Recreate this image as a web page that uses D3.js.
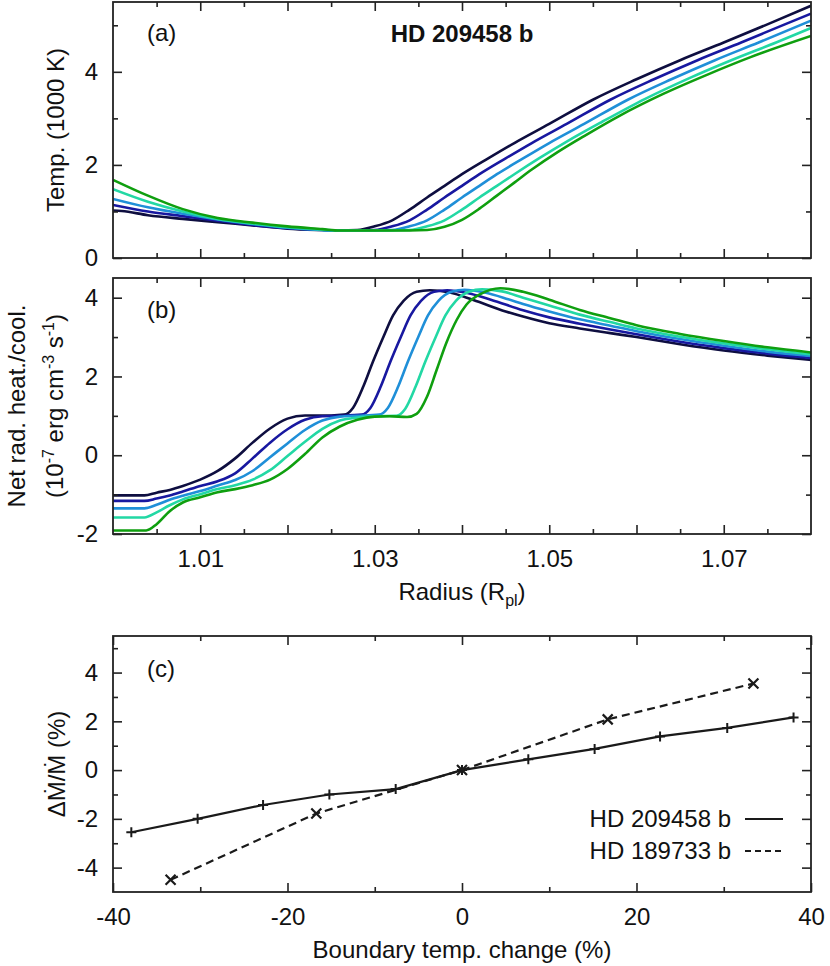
<!DOCTYPE html>
<html><head><meta charset="utf-8">
<script src="https://cdn.jsdelivr.net/npm/d3@7"></script>
<style>
body{margin:0;background:#fff}
text{font-family:"Liberation Sans",Arial,Helvetica,sans-serif;fill:#111}
</style>
</head><body>
<svg id="chart" width="830" height="966"></svg>
<script>
// ---------- DATA ----------
const seriesColors = ["#0e0e40", "#1818a0", "#1f8fd8", "#22d8a4", "#0f9f0f"];

// Panel (a): temperature (1000 K) vs radius (R_pl)
const tempS1 = [[1.000,1.02],[1.001,1.01],[1.004,0.92],[1.008,0.84],[1.012,0.77],[1.016,0.70],[1.020,0.63],[1.024,0.60],[1.026,0.59],[1.028,0.60],[1.030,0.68],[1.032,0.81],[1.034,1.04],[1.036,1.30],[1.038,1.55],[1.040,1.80],[1.043,2.14],[1.046,2.47],[1.050,2.88],[1.055,3.40],[1.060,3.84],[1.065,4.25],[1.070,4.63],[1.075,5.02],[1.080,5.42]];
const tempS2 = [[1.000,1.14],[1.004,1.00],[1.008,0.90],[1.012,0.80],[1.016,0.71],[1.020,0.64],[1.024,0.60],[1.026,0.59],[1.028,0.59],[1.030,0.60],[1.032,0.68],[1.034,0.81],[1.036,1.04],[1.038,1.30],[1.040,1.55],[1.042,1.80],[1.045,2.14],[1.048,2.47],[1.052,2.88],[1.057,3.40],[1.062,3.84],[1.067,4.25],[1.072,4.63],[1.077,5.02],[1.080,5.25]];
const tempS3 = [[1.000,1.27],[1.004,1.09],[1.008,0.95],[1.012,0.83],[1.016,0.73],[1.020,0.65],[1.024,0.60],[1.026,0.59],[1.030,0.59],[1.032,0.60],[1.034,0.68],[1.036,0.81],[1.038,1.04],[1.040,1.30],[1.042,1.55],[1.044,1.80],[1.047,2.14],[1.050,2.47],[1.054,2.88],[1.059,3.40],[1.064,3.84],[1.069,4.25],[1.074,4.63],[1.080,5.10]];
const tempS4 = [[1.000,1.48],[1.004,1.21],[1.008,1.00],[1.012,0.84],[1.016,0.74],[1.020,0.66],[1.024,0.61],[1.026,0.59],[1.032,0.59],[1.034,0.60],[1.036,0.68],[1.038,0.81],[1.040,1.04],[1.042,1.30],[1.044,1.55],[1.046,1.80],[1.049,2.16],[1.052,2.50],[1.056,2.92],[1.061,3.42],[1.066,3.86],[1.071,4.26],[1.076,4.63],[1.080,4.94]];
const tempS5 = [[1.000,1.68],[1.004,1.34],[1.008,1.05],[1.012,0.86],[1.016,0.76],[1.020,0.68],[1.024,0.62],[1.026,0.59],[1.034,0.59],[1.036,0.60],[1.038,0.67],[1.040,0.82],[1.042,1.06],[1.044,1.34],[1.046,1.62],[1.048,1.90],[1.051,2.28],[1.054,2.62],[1.058,3.05],[1.063,3.52],[1.068,3.93],[1.073,4.31],[1.080,4.77]];

// Panel (b): net radiative heating/cooling (1e-7 erg cm^-3 s^-1) vs radius
const heatS1 = [[1.000,-1.02],[1.0036,-1.02],[1.005,-0.95],[1.0065,-0.88],[1.008,-0.78],[1.010,-0.62],[1.012,-0.40],[1.014,-0.08],[1.016,0.32],[1.018,0.68],[1.020,0.93],[1.022,1.01],[1.025,1.01],[1.0265,1.03],[1.0275,1.20],[1.0287,1.75],[1.0298,2.38],[1.031,3.01],[1.0321,3.55],[1.0333,3.92],[1.0348,4.15],[1.0363,4.19],[1.0386,4.13],[1.0413,3.94],[1.045,3.65],[1.047,3.52],[1.050,3.35],[1.0535,3.22],[1.057,3.10],[1.060,3.00],[1.065,2.82],[1.070,2.66],[1.075,2.53],[1.080,2.42]];
const heatS2 = [[1.000,-1.16],[1.0036,-1.16],[1.005,-1.10],[1.0065,-1.02],[1.008,-0.92],[1.010,-0.78],[1.012,-0.66],[1.014,-0.46],[1.016,-0.08],[1.018,0.32],[1.020,0.66],[1.022,0.90],[1.024,0.99],[1.026,1.00],[1.0285,1.03],[1.0295,1.20],[1.0307,1.75],[1.0318,2.38],[1.033,3.01],[1.0341,3.55],[1.0353,3.92],[1.0368,4.15],[1.0383,4.19],[1.0406,4.12],[1.0433,3.95],[1.047,3.68],[1.050,3.50],[1.0535,3.34],[1.057,3.19],[1.060,3.07],[1.065,2.88],[1.070,2.72],[1.075,2.58],[1.080,2.47]];
const heatS3 = [[1.000,-1.35],[1.0036,-1.35],[1.005,-1.26],[1.0065,-1.13],[1.008,-1.03],[1.010,-0.91],[1.012,-0.77],[1.014,-0.63],[1.016,-0.40],[1.018,-0.05],[1.020,0.30],[1.022,0.64],[1.024,0.88],[1.026,0.98],[1.028,1.00],[1.0305,1.03],[1.0315,1.20],[1.0327,1.75],[1.0338,2.38],[1.035,3.01],[1.0361,3.55],[1.0373,3.92],[1.0388,4.15],[1.0403,4.20],[1.0426,4.13],[1.0453,3.96],[1.047,3.84],[1.050,3.65],[1.0535,3.45],[1.057,3.29],[1.060,3.15],[1.065,2.95],[1.070,2.78],[1.075,2.63],[1.080,2.52]];
const heatS4 = [[1.000,-1.58],[1.0036,-1.58],[1.005,-1.45],[1.0065,-1.27],[1.008,-1.12],[1.010,-0.99],[1.012,-0.86],[1.014,-0.76],[1.016,-0.62],[1.018,-0.38],[1.020,-0.02],[1.022,0.34],[1.024,0.67],[1.026,0.88],[1.028,0.96],[1.030,0.99],[1.0325,1.00],[1.0335,1.18],[1.0347,1.75],[1.0358,2.38],[1.037,3.01],[1.0381,3.55],[1.0393,3.92],[1.0408,4.15],[1.0423,4.21],[1.0446,4.16],[1.047,4.00],[1.050,3.80],[1.0535,3.57],[1.057,3.38],[1.060,3.22],[1.065,3.01],[1.070,2.84],[1.075,2.69],[1.080,2.56]];
const heatS5 = [[1.000,-1.91],[1.0038,-1.91],[1.005,-1.75],[1.0065,-1.42],[1.008,-1.20],[1.010,-1.07],[1.012,-0.94],[1.014,-0.86],[1.016,-0.76],[1.018,-0.62],[1.020,-0.35],[1.022,0.03],[1.024,0.45],[1.026,0.73],[1.028,0.90],[1.030,0.98],[1.0317,0.99],[1.0337,0.97],[1.0348,1.05],[1.036,1.49],[1.0371,2.17],[1.0382,2.85],[1.0394,3.44],[1.0405,3.82],[1.0421,4.09],[1.0444,4.24],[1.047,4.15],[1.050,3.95],[1.0535,3.69],[1.057,3.48],[1.060,3.30],[1.065,3.08],[1.070,2.90],[1.075,2.74],[1.080,2.61]];

// Panel (c): mass-loss change vs boundary temperature change
const boundaryChangeA = [-37.9,-30.3,-22.8,-15.2,-7.6,0,7.6,15.2,22.7,30.4,38.0];
const massLossChangeA = [-2.55,-2.0,-1.43,-1.0,-0.78,0,0.44,0.87,1.38,1.73,2.16];
const boundaryChangeB = [-33.4,-16.7,0,16.7,33.4];
const massLossChangeB = [-4.5,-1.78,0,2.08,3.55];
const legendLabels = ["HD 209458 b","HD 189733 b"];

const radiusLabelTicks = [1.01,1.03,1.05,1.07];
const radiusMajorTicks = [1.01,1.02,1.03,1.04,1.05,1.06,1.07];
const radiusMinorTicks = [1.005,1.015,1.025,1.035,1.045,1.055,1.065,1.075];
const tempTicks = [0,2,4], tempMinor = [1,3,5];
const heatTicks = [-2,0,2,4], heatMinor = [-1,1,3];
const dmTicks = [-4,-2,0,2,4], dmMinor = [-3,-1,1,3,5];
const bcTicks = [-40,-20,0,20,40], bcMinor = [-30,-10,10,30];

// ---------- LAYOUT ----------
const svg = d3.select("#chart");
const L = 113, R = 811;
const FS = 24;
const ink = "#111";
const intFmt = d => (d < 0 ? "-" : "") + Math.abs(d);

const xR = d3.scaleLinear().domain([1.0,1.08]).range([L,R]);
const yA = d3.scaleLinear().domain([0,5.5]).range([258,2]);
const yB = d3.scaleLinear().domain([-2,4.5]).range([534,278]);
const xC = d3.scaleLinear().domain([-40,40]).range([L,R]);
const yC = d3.scaleLinear().domain([-5,5.5]).range([892,636]);

function styleAxis(g){
  g.select(".domain").remove();
  g.attr("font-size",FS).attr("font-family",null);
  g.selectAll("line").attr("stroke","#222").attr("stroke-width",1.6);
  g.selectAll("text").attr("fill",ink);
}

function drawAxes(x, y, xMajor, xMinor, xLabelFn, yMajor, yMinor){
  const top = y.range()[1], bot = y.range()[0];
  const g = svg.append("g");
  g.append("g").attr("transform",`translate(0,${bot})`)
    .call(d3.axisBottom(x).tickValues(xMajor).tickSize(-9).tickPadding(16).tickFormat(xLabelFn)).call(styleAxis);
  g.append("g").attr("transform",`translate(0,${bot})`)
    .call(d3.axisBottom(x).tickValues(xMinor).tickSize(-5).tickFormat("")).call(styleAxis);
  g.append("g").attr("transform",`translate(0,${top})`)
    .call(d3.axisTop(x).tickValues(xMajor).tickSize(-9).tickFormat("")).call(styleAxis);
  g.append("g").attr("transform",`translate(0,${top})`)
    .call(d3.axisTop(x).tickValues(xMinor).tickSize(-5).tickFormat("")).call(styleAxis);
  g.append("g").attr("transform",`translate(${L},0)`)
    .call(d3.axisLeft(y).tickValues(yMajor).tickSize(-9).tickPadding(15).tickFormat(intFmt)).call(styleAxis);
  g.append("g").attr("transform",`translate(${L},0)`)
    .call(d3.axisLeft(y).tickValues(yMinor).tickSize(-5).tickFormat("")).call(styleAxis);
  g.append("g").attr("transform",`translate(${R},0)`)
    .call(d3.axisRight(y).tickValues(yMajor).tickSize(-9).tickFormat("")).call(styleAxis);
  g.append("g").attr("transform",`translate(${R},0)`)
    .call(d3.axisRight(y).tickValues(yMinor).tickSize(-5).tickFormat("")).call(styleAxis);
  svg.append("rect").attr("x",L).attr("y",top).attr("width",R-L).attr("height",bot-top)
    .attr("fill","none").attr("stroke","#222").attr("stroke-width",1.8);
}

function clip(id, x, y){
  svg.append("clipPath").attr("id",id).append("rect")
    .attr("x",x.range()[0]).attr("y",y.range()[1])
    .attr("width",x.range()[1]-x.range()[0]).attr("height",y.range()[0]-y.range()[1]);
}
clip("clipA",xR,yA); clip("clipB",xR,yB); clip("clipC",xC,yC);

// ---------- PANEL (a) ----------
const lineA = d3.line().x(d=>xR(d[0])).y(d=>yA(d[1])).curve(d3.curveMonotoneX);
const gA = svg.append("g").attr("clip-path","url(#clipA)");
[tempS1,tempS2,tempS3,tempS4,tempS5].forEach((s,i)=>{
  gA.append("path").attr("d",lineA(s)).attr("fill","none")
    .attr("stroke",seriesColors[i]).attr("stroke-width",2.6).attr("stroke-linejoin","round");
});
drawAxes(xR,yA,radiusMajorTicks,radiusMinorTicks,()=>"",tempTicks,tempMinor);

// ---------- PANEL (b) ----------
const lineB = d3.line().x(d=>xR(d[0])).y(d=>yB(d[1])).curve(d3.curveMonotoneX);
const gB = svg.append("g").attr("clip-path","url(#clipB)");
[heatS1,heatS2,heatS3,heatS4,heatS5].forEach((s,i)=>{
  gB.append("path").attr("d",lineB(s)).attr("fill","none")
    .attr("stroke",seriesColors[i]).attr("stroke-width",2.6).attr("stroke-linejoin","round");
});
const fmtR = d => radiusLabelTicks.some(v=>Math.abs(v-d)<1e-9) ? d3.format(".2f")(d) : "";
drawAxes(xR,yB,radiusMajorTicks,radiusMinorTicks,fmtR,heatTicks,heatMinor);

// ---------- PANEL (c) ----------
const dataA = boundaryChangeA.map((v,i)=>[v,massLossChangeA[i]]);
const dataB = boundaryChangeB.map((v,i)=>[v,massLossChangeB[i]]);
const lineC = d3.line().x(d=>xC(d[0])).y(d=>yC(d[1]));
const gC = svg.append("g").attr("clip-path","url(#clipC)");
gC.append("path").attr("d",lineC(dataA)).attr("fill","none").attr("stroke","#1a1a1a").attr("stroke-width",2.2);
gC.append("path").attr("d",lineC(dataB)).attr("fill","none").attr("stroke","#1a1a1a").attr("stroke-width",2.2)
  .attr("stroke-dasharray","8,5");
gC.selectAll(".plus").data(dataA).enter().append("path")
  .attr("d",d=>{const x=xC(d[0]),y=yC(d[1]);return `M${x-5},${y}H${x+5}M${x},${y-5}V${y+5}`;})
  .attr("stroke","#1a1a1a").attr("stroke-width",2);
gC.selectAll(".times").data(dataB).enter().append("path")
  .attr("d",d=>{const x=xC(d[0]),y=yC(d[1]);return `M${x-5},${y-5}L${x+5},${y+5}M${x-5},${y+5}L${x+5},${y-5}`;})
  .attr("stroke","#1a1a1a").attr("stroke-width",2.2);
drawAxes(xC,yC,bcTicks,bcMinor,intFmt,dmTicks,dmMinor);

legendLabels.forEach((lab,i)=>{
  const yy = 819 + i*32;
  svg.append("text").attr("x",731).attr("y",yy+8).attr("text-anchor","end")
    .attr("font-size",FS).text(lab);
  svg.append("line").attr("x1",745).attr("x2",783).attr("y1",yy).attr("y2",yy)
    .attr("stroke","#1a1a1a").attr("stroke-width",2.2)
    .attr("stroke-dasharray", i===1 ? "6,4" : null);
});

// ---------- TEXT ----------
svg.append("text").attr("x",147).attr("y",41).attr("font-size",FS).text("(a)");
svg.append("text").attr("x",147).attr("y",318).attr("font-size",FS).text("(b)");
svg.append("text").attr("x",147).attr("y",677).attr("font-size",FS).text("(c)");
svg.append("text").attr("x",462).attr("y",41.5).attr("text-anchor","middle")
  .attr("font-size",FS).attr("font-weight","bold").text("HD 209458 b");

svg.append("text").attr("transform","translate(64,130) rotate(-90)")
  .attr("text-anchor","middle").attr("font-size",FS).text("Temp. (1000 K)");

svg.append("text").attr("transform","translate(24.5,406) rotate(-90)")
  .attr("text-anchor","middle").attr("font-size",FS).text("Net rad. heat./cool.");
const t2 = svg.append("text").attr("transform","translate(63,406) rotate(-90)")
  .attr("text-anchor","middle").attr("font-size",FS);
t2.append("tspan").text("(10");
t2.append("tspan").attr("dy",-9).attr("font-size",16).text("-7");
t2.append("tspan").attr("dy",9).text(" erg cm");
t2.append("tspan").attr("dy",-9).attr("font-size",16).text("-3");
t2.append("tspan").attr("dy",9).text(" s");
t2.append("tspan").attr("dy",-9).attr("font-size",16).text("-1");
t2.append("tspan").attr("dy",9).text(")");

const tx = svg.append("text").attr("x",462).attr("y",600).attr("text-anchor","middle").attr("font-size",FS);
tx.append("tspan").text("Radius (R");
tx.append("tspan").attr("dy",6).attr("font-size",16).text("pl");
tx.append("tspan").attr("dy",-6).text(")");

svg.append("text").attr("transform","translate(65,764) rotate(-90)")
  .attr("text-anchor","middle").attr("font-size",FS).text("ΔṀ/Ṁ (%)");

svg.append("text").attr("x",462).attr("y",958).attr("text-anchor","middle")
  .attr("font-size",FS).text("Boundary temp. change (%)");
</script>
</body></html>
